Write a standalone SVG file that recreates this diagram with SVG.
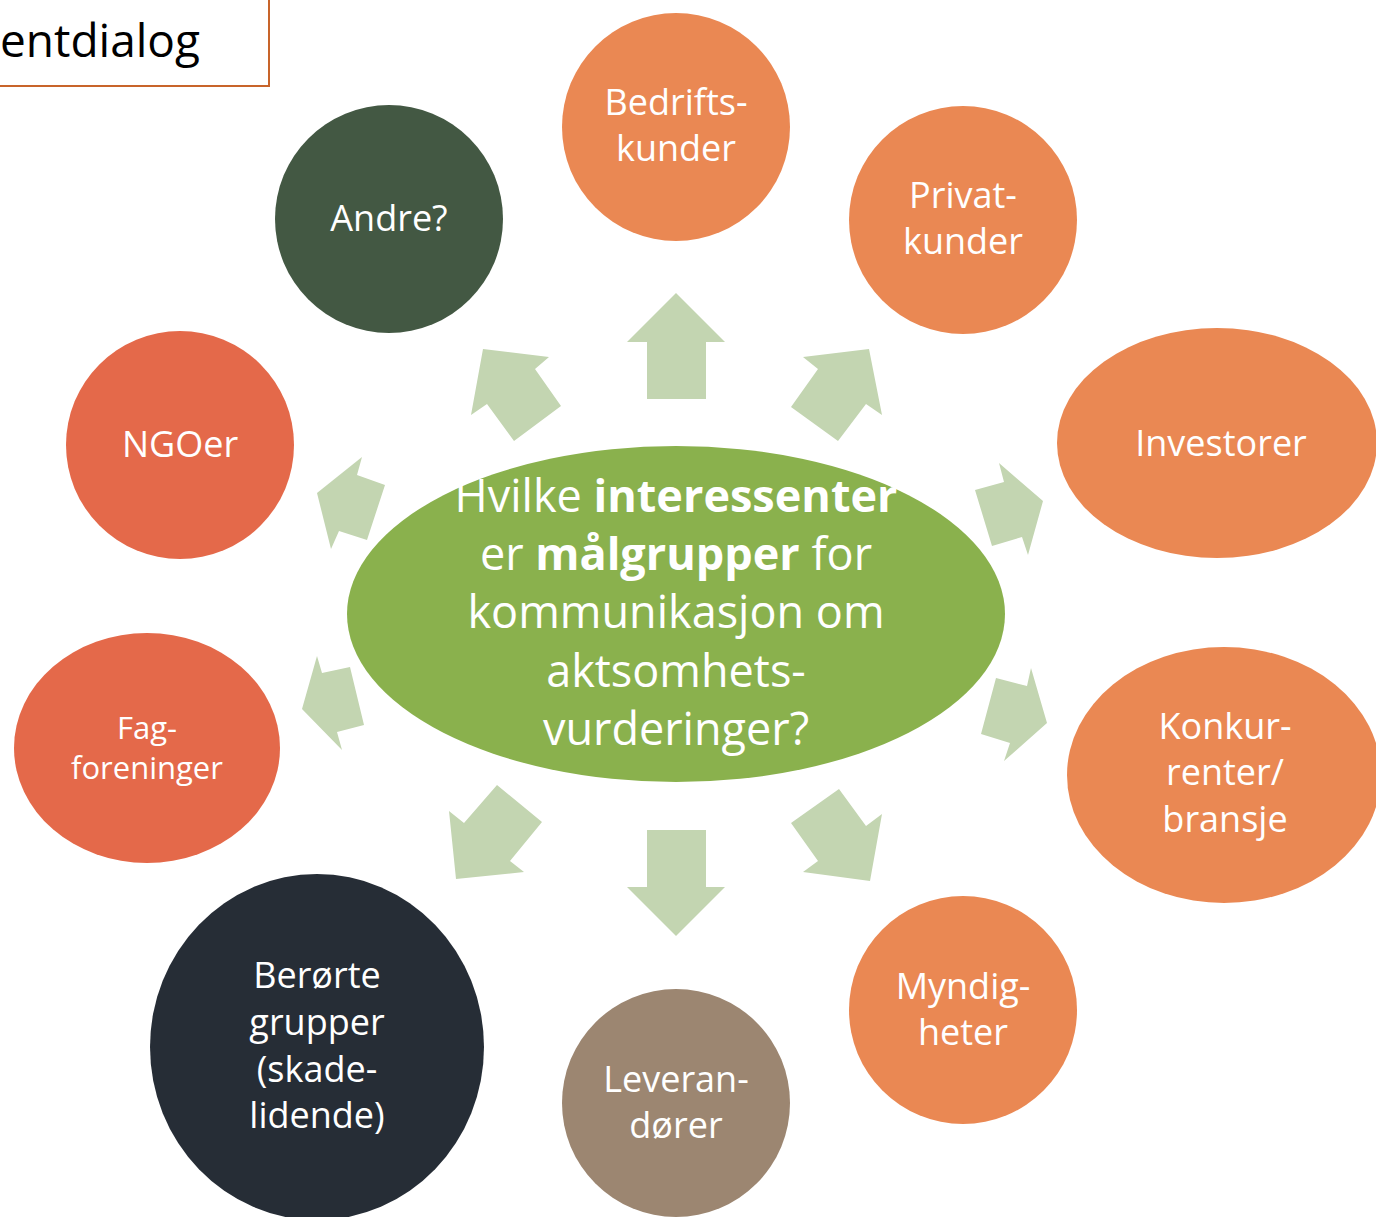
<svg xmlns="http://www.w3.org/2000/svg" width="1376" height="1217" viewBox="0 0 1376 1217">
<style>
.arrow{fill:#C3D5B1;stroke:none}
.t{font-family:"Open Sans","Liberation Sans",sans-serif;fill:#FFFFFF;text-anchor:middle}
.n{font-size:36px}
.s{font-size:31px}
.c{font-size:45px}
.b{font-weight:700}
.orange{fill:#EA8853}
.red{fill:#E4694A}
</style>
<rect x="0" y="0" width="1376" height="1217" fill="#FFFFFF"/>
<g id="title">
<rect x="-10" y="-10" width="279" height="96" fill="#FFFFFF" stroke="#C8642A" stroke-width="2"/>
<text x="0" y="57" font-family="Open Sans, Liberation Sans, sans-serif" font-size="46" fill="#000000">entdialog</text>
</g>
<g id="connectors">
<polygon class="arrow" points="676,293 725,342 706,342 706,399 647,399 647,342 627,342"/>
<polygon class="arrow" points="869,349 882,415 866,404 838,441 791,407 818,369 803,357"/>
<polygon class="arrow" points="1043,501 1028,555 1022,537 992,546 975,490 1004,482 999,463"/>
<polygon class="arrow" points="1047,723 1004,761 1010,743 981,734 996,678 1027,686 1031,668"/>
<polygon class="arrow" points="870,881 803,872 818,861 791,823 839,789 866,826 882,814"/>
<polygon class="arrow" points="676,936 627,887 647,887 647,830 706,830 706,887 725,887"/>
<polygon class="arrow" points="456,879 449,811 464,823 497,785 542,822 510,861 524,872"/>
<polygon class="arrow" points="302,709 317,656 322,673 350,667 364,725 337,732 342,750"/>
<polygon class="arrow" points="317,493 362,457 357,475 385,485 367,540 339,531 331,549"/>
<polygon class="arrow" points="483,349 549,357 535,369 561,406 514,441 487,404 471,415"/>
</g>
<g id="center">
<ellipse cx="676" cy="614" rx="329" ry="168" fill="#8AB14D"/>
<text class="t c" x="676" y="512">Hvilke <tspan class="b">interessenter</tspan></text>
<text class="t c" x="676" y="570">er <tspan class="b">målgrupper</tspan> for</text>
<text class="t c" x="676" y="628">kommunikasjon om</text>
<text class="t c" x="676" y="687">aktsomhets-</text>
<text class="t c" x="676" y="745">vurderinger?</text>
</g>
<g id="bedriftskunder">
<circle class="orange" cx="676" cy="127" r="114"/>
<text class="t n" x="676" y="115">Bedrifts-</text>
<text class="t n" x="676" y="161">kunder</text>
</g>
<g id="privatkunder">
<circle class="orange" cx="963" cy="220" r="114"/>
<text class="t n" x="963" y="208">Privat-</text>
<text class="t n" x="963" y="254">kunder</text>
</g>
<g id="investorer">
<ellipse class="orange" cx="1217" cy="443" rx="160" ry="115"/>
<text class="t n" x="1221" y="456">Investorer</text>
</g>
<g id="konkurrenter">
<ellipse class="orange" cx="1224" cy="775" rx="157" ry="128"/>
<text class="t n" x="1225" y="739">Konkur-</text>
<text class="t n" x="1225" y="785">renter/</text>
<text class="t n" x="1225" y="832">bransje</text>
</g>
<g id="myndigheter">
<circle class="orange" cx="963" cy="1010" r="114"/>
<text class="t n" x="963" y="999">Myndig-</text>
<text class="t n" x="963" y="1045">heter</text>
</g>
<g id="leverandorer">
<circle cx="676" cy="1103" r="114" fill="#9C8671"/>
<text class="t n" x="676" y="1092">Leveran-</text>
<text class="t n" x="676" y="1138">dører</text>
</g>
<g id="berorte">
<ellipse cx="317" cy="1047" rx="167" ry="173" fill="#262D36"/>
<text class="t n" x="317" y="988">Berørte</text>
<text class="t n" x="317" y="1035">grupper</text>
<text class="t n" x="317" y="1082">(skade-</text>
<text class="t n" x="317" y="1128">lidende)</text>
</g>
<g id="fagforeninger">
<ellipse class="red" cx="147" cy="748" rx="133" ry="115"/>
<text class="t s" x="147" y="739">Fag-</text>
<text class="t s" x="147" y="779">foreninger</text>
</g>
<g id="ngoer">
<circle class="red" cx="180" cy="445" r="114"/>
<text class="t n" x="180" y="457">NGOer</text>
</g>
<g id="andre">
<circle cx="389" cy="219" r="114" fill="#435843"/>
<text class="t n" x="389" y="231">Andre?</text>
</g>
</svg>
